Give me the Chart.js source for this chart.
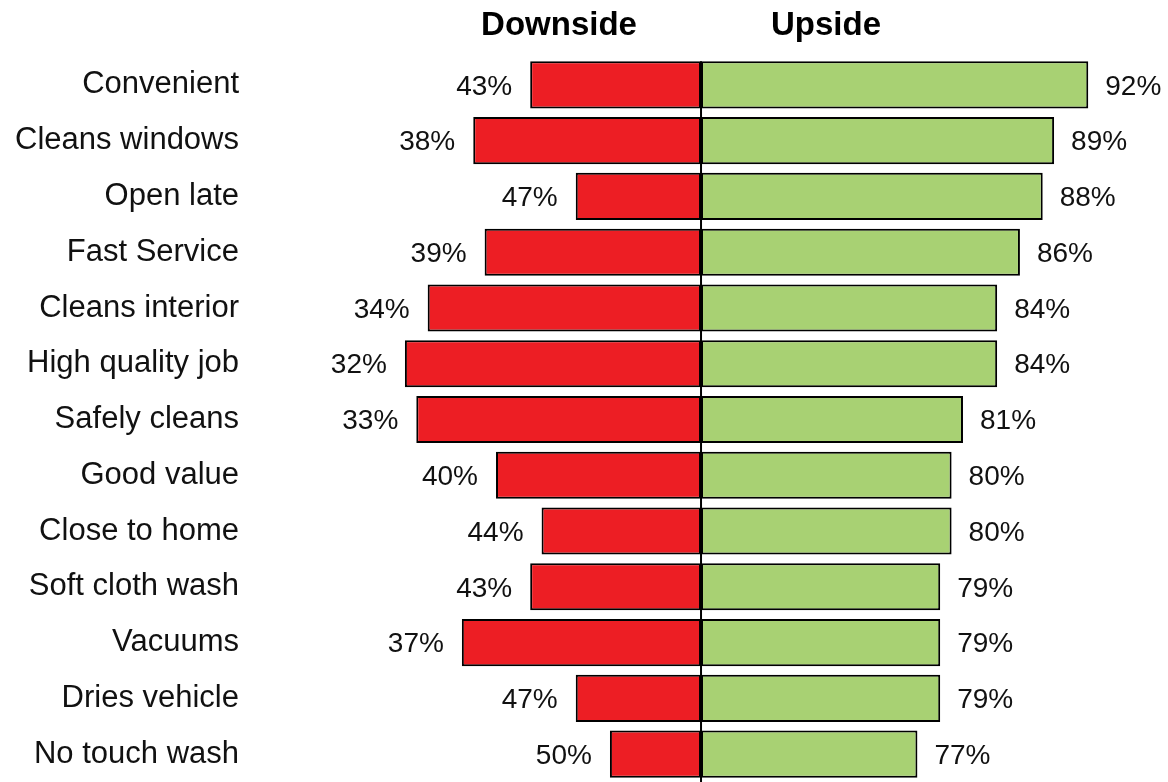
<!DOCTYPE html>
<html>
<head>
<meta charset="utf-8">
<script src="https://cdn.jsdelivr.net/npm/chart.js@4"></script>
<style>
    html, body { margin: 0; padding: 0; background: #fff; }
    #wrap { position: relative; width: 1168px; height: 782px; }
</style>
</head>
<body>
<div id="wrap"><canvas id="myChart"></canvas></div>
<script>
// attributes, top to bottom
const attributes = ['Convenient', 'Cleans windows', 'Open late', 'Fast Service', 'Cleans interior',
    'High quality job', 'Safely cleans', 'Good value', 'Close to home', 'Soft cloth wash',
    'Vacuums', 'Dries vehicle', 'No touch wash'];
const downside = [43, 38, 47, 39, 34, 32, 33, 40, 44, 43, 37, 47, 50];
const upside = [92, 89, 88, 86, 84, 84, 81, 80, 80, 79, 79, 79, 77];
// value both sides are measured from
const midpoint = 58;

const FONT = "'Liberation Sans', Arial, sans-serif";

// bars float between each value and the midpoint
const downBars = downside.map(v => [v, midpoint]);
const upBars = upside.map(v => [midpoint, v]);

// % labels at the outer end of every bar
const valueLabels = {
    id: 'valueLabels',
    afterDatasetsDraw(chart) {
        const ctx = chart.ctx;
        ctx.save();
        ctx.font = '28px ' + FONT;
        ctx.fillStyle = '#111';
        ctx.textBaseline = 'middle';
        chart.data.datasets.forEach((ds, i) => {
            const meta = chart.getDatasetMeta(i);
            const left = ds.label === 'Downside';
            ctx.textAlign = left ? 'right' : 'left';
            meta.data.forEach((bar, j) => {
                const v = left ? downside[j] : upside[j];
                const x = chart.scales.x.getPixelForValue(v);
                ctx.fillText(v + '%', left ? x - 18 : x + 17, bar.y + 2);
            });
        });
        ctx.restore();
    }
};

// vertical line through the midpoint + the two side headings
const centerLine = {
    id: 'centerLine',
    afterDatasetsDraw(chart) {
        const ctx = chart.ctx;
        const x = chart.scales.x.getPixelForValue(midpoint);
        const first = chart.getDatasetMeta(0).data[0];
        ctx.save();
        ctx.strokeStyle = '#000';
        ctx.lineWidth = 2;
        ctx.beginPath();
        ctx.moveTo(x, first.y - first.height / 2);
        ctx.lineTo(x, chart.chartArea.bottom);
        ctx.stroke();

        ctx.font = 'bold 33px ' + FONT;
        ctx.fillStyle = '#000';
        ctx.textBaseline = 'middle';
        ctx.textAlign = 'center';
        ctx.fillText('Downside', x - 142, 26);
        ctx.fillText('Upside', x + 125, 26);
        ctx.restore();
    }
};

new Chart(document.getElementById('myChart'), {
    type: 'bar',
    data: {
        labels: attributes,
        datasets: [{
            label: 'Downside',
            data: downBars,
            backgroundColor: 'rgb(237, 30, 36)'
        }, {
            label: 'Upside',
            data: upBars,
            backgroundColor: 'rgb(168, 209, 115)'
        }]
    },
    options: {
        indexAxis: 'y',
        responsive: true,
        maintainAspectRatio: false,
        animation: false,
        layout: {
            padding: {top: 57, right: 0, bottom: 0, left: 0}
        },
        datasets: {
            bar: {
                grouped: false,
                borderColor: '#000',
                borderWidth: 2,
                borderSkipped: false,
                categoryPercentage: 1,
                barPercentage: 0.845
            }
        },
        scales: {
            x: {
                display: false,
                min: 18.4,
                max: 99
            },
            y: {
                grid: {display: false, drawTicks: false},
                border: {display: false},
                ticks: {
                    color: '#111',
                    padding: 11,
                    font: {family: FONT, size: 31}
                },
                afterFit: function (scale) {
                    scale.width = 250;
                    // last row runs to the bottom edge
                    scale.paddingTop = 0;
                    scale.paddingBottom = 0;
                }
            }
        },
        plugins: {
            legend: {display: false},
            tooltip: {enabled: false}
        }
    },
    plugins: [valueLabels, centerLine]
});
</script>
</body>
</html>
